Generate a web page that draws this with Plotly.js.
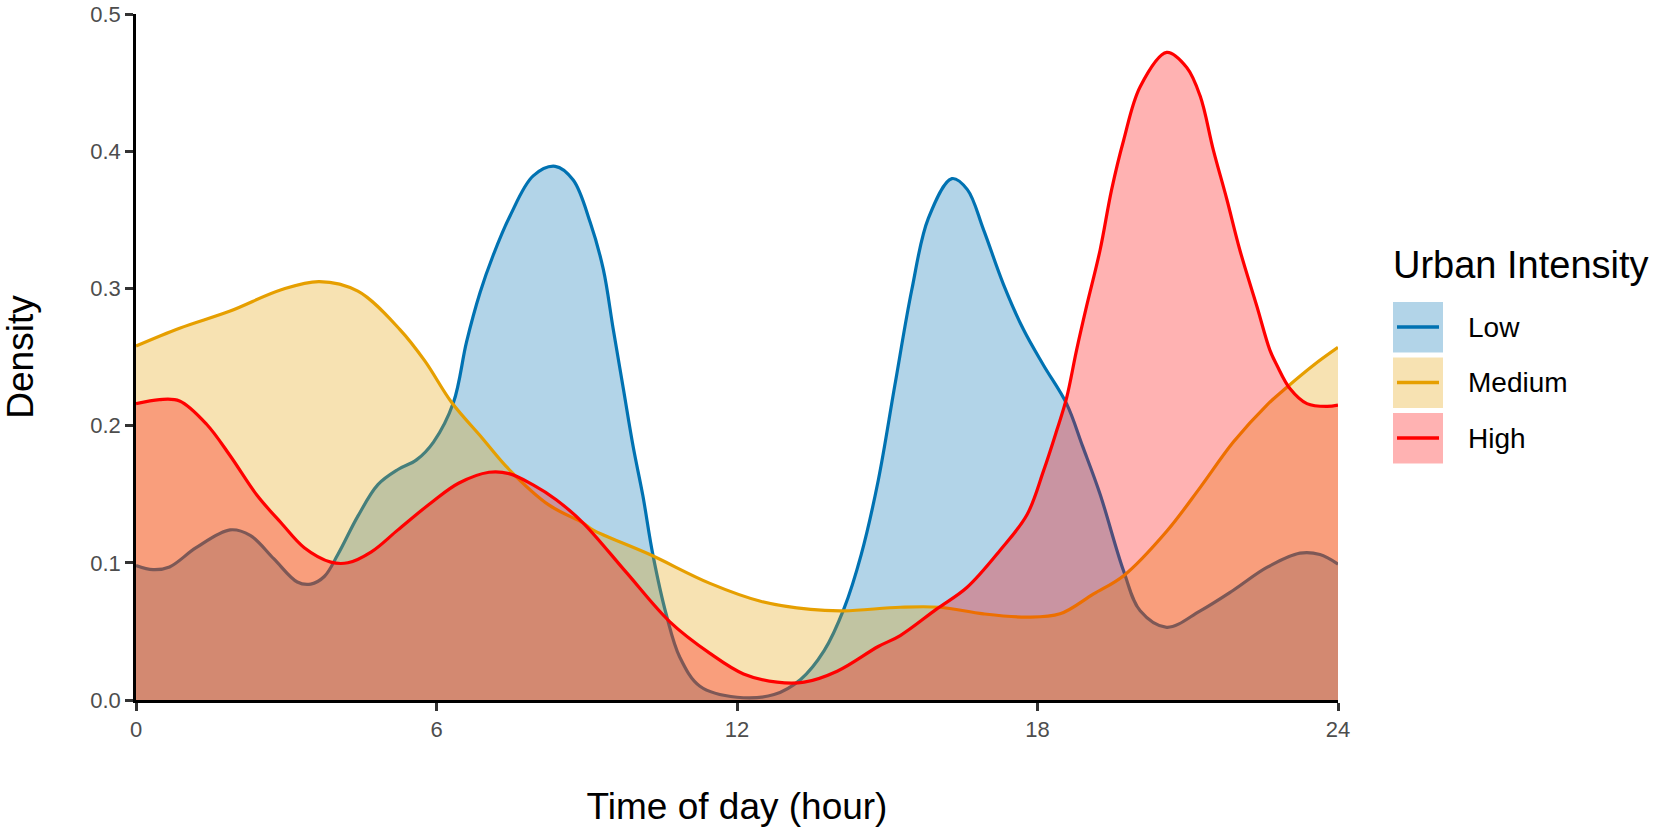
<!DOCTYPE html>
<html>
<head>
<meta charset="utf-8">
<script src="https://cdn.plot.ly/plotly-3.0.1.min.js"></script>
<style>
  html, body { margin: 0; padding: 0; background: #ffffff; }
  #chart { width: 1655px; height: 827px; }
</style>
</head>
<body>
<div id="chart"></div>
<script>
// Density curves, one hour/density pair list per group
const lowHours = [0, 0.34, 0.67, 1.2, 1.88, 2.28, 2.75, 3.22, 3.49, 3.76, 4.03, 4.43, 4.83, 5.23, 5.6, 5.94,
    6.34, 6.6, 6.87, 7.13, 7.47, 7.93, 8.37, 8.73, 9.07, 9.33, 9.53, 9.73, 9.93, 10.12, 10.32, 10.59, 10.86,
    11.26, 12.0, 12.74, 13.27, 13.74, 14.14, 14.48, 14.82, 15.15, 15.49, 15.82, 16.29, 16.6, 16.92, 17.32,
    17.72, 18.12, 18.58, 18.9, 19.25, 19.72, 20.05, 20.58, 21.25, 21.91, 22.58, 23.24, 23.64, 24];
const lowDensity = [0.098, 0.095, 0.097, 0.111, 0.124, 0.120, 0.103, 0.086, 0.0845, 0.090, 0.106, 0.134, 0.157,
    0.168, 0.175, 0.188, 0.217, 0.261, 0.297, 0.324, 0.353, 0.382, 0.389, 0.379, 0.348, 0.314, 0.270, 0.227,
    0.184, 0.149, 0.106, 0.062, 0.031, 0.010, 0.002, 0.004, 0.015, 0.036, 0.067, 0.106, 0.160, 0.229, 0.299,
    0.351, 0.380, 0.372, 0.343, 0.303, 0.270, 0.244, 0.216, 0.185, 0.150, 0.094, 0.065, 0.053, 0.065, 0.080,
    0.0966, 0.107, 0.106, 0.099];

const mediumHours = [0, 0.87, 1.88, 2.9, 3.66, 4.43, 5.27, 5.77, 6.3, 6.91, 7.45, 8.25, 8.93, 9.12, 10.26,
    11.46, 12.47, 13.47, 14.14, 15.26, 16.05, 16.92, 17.79, 18.45, 19.12, 19.72, 20.58, 21.25, 21.91, 22.58,
    22.98, 23.51, 24];
const mediumDensity = [0.258, 0.271, 0.2835, 0.299, 0.305, 0.298, 0.270, 0.247, 0.217, 0.191, 0.168, 0.142,
    0.129, 0.124, 0.106, 0.085, 0.072, 0.066, 0.065, 0.0676, 0.0676, 0.0628, 0.0604, 0.0628, 0.0773, 0.0906,
    0.123, 0.155, 0.188, 0.215, 0.228, 0.244, 0.257];

const highHours = [0, 0.47, 0.87, 1.41, 1.88, 2.42, 2.9, 3.36, 3.89, 4.23, 4.7, 5.23, 5.9, 6.44, 7.05, 7.45,
    7.92, 8.39, 8.93, 9.79, 10.66, 11.46, 12.13, 12.8, 13.34, 14.0, 14.82, 15.26, 15.99, 16.59, 17.25, 17.79,
    18.12, 18.38, 18.58, 18.78, 18.98, 19.25, 19.48, 19.72, 20.05, 20.58, 20.98, 21.25, 21.51, 21.78, 22.04,
    22.38, 22.64, 22.78, 23.04, 23.38, 23.78, 24];
const highDensity = [0.216, 0.219, 0.218, 0.201, 0.178, 0.149, 0.129, 0.111, 0.1005, 0.100, 0.108, 0.124,
    0.144, 0.158, 0.166, 0.165, 0.157, 0.146, 0.129, 0.093, 0.057, 0.034, 0.019, 0.013, 0.013, 0.021, 0.039,
    0.047, 0.0664, 0.082, 0.109, 0.135, 0.167, 0.196, 0.220, 0.255, 0.287, 0.328, 0.372, 0.408, 0.447, 0.472,
    0.461, 0.440, 0.401, 0.365, 0.328, 0.287, 0.255, 0.244, 0.227, 0.216, 0.214, 0.215];

const groupNames = ["Low", "Medium", "High"];
const groupColors = ["#0072B2", "#E69F00", "#FF0000"];
const hourTicks = [0, 6, 12, 18, 24];
const densityTicks = [0, 0.1, 0.2, 0.3, 0.4, 0.5];

const FONT = "Liberation Sans, Arial, Helvetica, sans-serif";
const FILL_ALPHA = 0.3;

// plot panel in page pixels (ggplot panel of the reference)
const panel = {left: 136, right: 1338, top: 14, bottom: 700};
const pxX = px => (px - panel.left) / (panel.right - panel.left);
const pxY = py => (panel.bottom - py) / (panel.bottom - panel.top);

function withAlpha(hex, a) {
    const n = parseInt(hex.slice(1), 16);
    return `rgba(${(n >> 16) & 255}, ${(n >> 8) & 255}, ${n & 255}, ${a})`;
}

function densityTrace(x, y, i) {
    return {
        type: "scatter",
        mode: "lines",
        name: groupNames[i],
        x: x,
        y: y,
        fill: "tozeroy",
        fillcolor: withAlpha(groupColors[i], FILL_ALPHA),
        line: {color: groupColors[i], width: 3.2, shape: "spline", smoothing: 1},
        hoverinfo: "x+y+name",
        showlegend: false,
    };
}

const traces = [
    densityTrace(lowHours, lowDensity, 0),
    densityTrace(mediumHours, mediumDensity, 1),
    densityTrace(highHours, highDensity, 2),
];

// ggplot-style legend: tinted key square with the group line across it
const shapes = [];
const annotations = [{
    xref: "paper", yref: "paper",
    x: pxX(1391), y: pxY(265),
    xanchor: "left", yanchor: "middle",
    text: "Urban Intensity",
    showarrow: false,
    font: {family: FONT, size: 38, color: "#000000"},
}];
groupNames.forEach((name, i) => {
    const top = 302 + i * 55.5;
    const mid = top + 25;
    shapes.push({
        type: "rect", xref: "paper", yref: "paper", layer: "above",
        x0: pxX(1393), x1: pxX(1443), y0: pxY(top), y1: pxY(top + 50.5),
        fillcolor: withAlpha(groupColors[i], FILL_ALPHA),
        line: {width: 0},
    });
    shapes.push({
        type: "line", xref: "paper", yref: "paper", layer: "above",
        x0: pxX(1397), x1: pxX(1439), y0: pxY(mid), y1: pxY(mid),
        line: {color: groupColors[i], width: 3.5},
    });
    annotations.push({
        xref: "paper", yref: "paper",
        x: pxX(1466), y: pxY(mid),
        xanchor: "left", yanchor: "middle",
        text: name,
        showarrow: false,
        font: {family: FONT, size: 28, color: "#000000"},
    });
});

const axisBase = {
    showgrid: false,
    zeroline: false,
    showline: true,
    linecolor: "#000000",
    linewidth: 2.5,
    ticks: "outside",
    ticklen: 8,
    tickwidth: 2.5,
    tickcolor: "#333333",
    tickfont: {family: FONT, size: 22, color: "#4D4D4D"},
    ticklabeloverflow: "allow",
    fixedrange: true,
};

const layout = {
    width: 1655,
    height: 827,
    paper_bgcolor: "#ffffff",
    plot_bgcolor: "#ffffff",
    margin: {l: panel.left, r: 1655 - panel.right, t: panel.top, b: 827 - panel.bottom},
    showlegend: false,
    xaxis: {
        ...axisBase,
        range: [0, 24],
        tickvals: hourTicks,
        ticktext: hourTicks.map(String),
        title: {text: "Time of day (hour)", font: {family: FONT, size: 37, color: "#000000"}, standoff: 54},
    },
    yaxis: {
        ...axisBase,
        range: [0, 0.5],
        tickvals: densityTicks,
        ticktext: densityTicks.map(v => v.toFixed(1)),
        title: {text: "Density", font: {family: FONT, size: 37, color: "#000000"}, standoff: 48},
    },
    shapes: shapes,
    annotations: annotations,
};

Plotly.newPlot("chart", traces, layout, {displayModeBar: false, responsive: false});
</script>
</body>
</html>
